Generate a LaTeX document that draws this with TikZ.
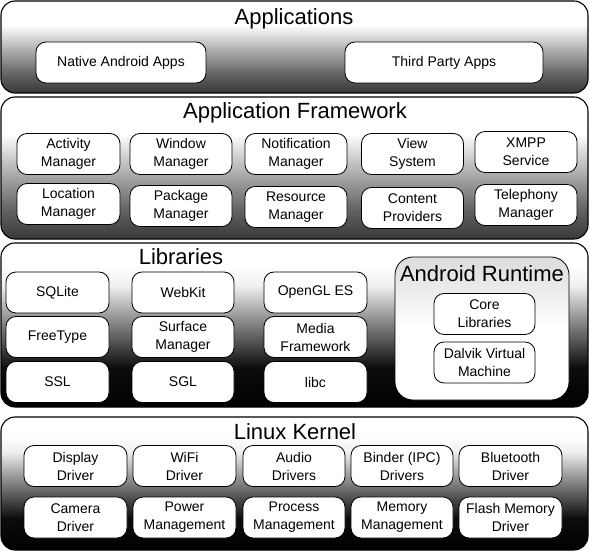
\documentclass[tikz,border=0pt]{standalone}
\usepackage{fontspec}
\setmainfont{Liberation Sans}
\usepackage{tikz}

% Shadings for the layers (bottom to top)
\pgfdeclareverticalshading{layershade}{100bp}{color(0bp)=(black!78); color(25bp)=(black!78); color(35bp)=(black!62); color(50bp)=(black!28); color(62bp)=(white); color(100bp)=(white)}
\pgfdeclareverticalshading{darkshade}{100bp}{color(0bp)=(black); color(25bp)=(black); color(37bp)=(black!95); color(50bp)=(black!50); color(62bp)=(black!6); color(68bp)=(white); color(100bp)=(white)}

\begin{document}
\begin{tikzpicture}[x=1pt,y=-1pt,
    layer/.style={draw=black, line width=1.1pt, rounded corners=14pt, shading=layershade},
    darklayer/.style={layer, shading=darkshade},
    title/.style={anchor=base, font=\fontsize{22}{26}\selectfont},
    comp/.style={draw=black, line width=0.8pt, fill=white, rounded corners=10pt, align=center,
        inner sep=0pt, minimum width=102pt, minimum height=41pt,
        font=\fontsize{14}{18}\selectfont}]
    \useasboundingbox (0,0) rectangle (590,551);

    % Draw the four layers
    \draw[layer] (1,1) rectangle (588,93);
    \draw[layer] (1,97) rectangle (588,239);
    \draw[darklayer] (1,243) rectangle (588,407);
    \draw[darklayer] (1,417) rectangle (588,550);

    % Applications
    \node[title] (apptitle) at (294,25) {Applications};
    \node[comp, minimum width=170pt] (nativeapps) at (121,62.5) {Native Android Apps};
    \node[comp, minimum width=198pt] (thirdapps) at (444,62.5) {Third Party Apps};

    % Application Framework
    \node[title] (fwtitle) at (295,119) {Application Framework};
    \node[comp, minimum width=103pt] (activitymgr) at (68.5,154) {Activity\\Manager};
    \node[comp] (windowmgr) at (181,154) {Window\\Manager};
    \node[comp] (notifmgr) at (296,154) {Notification\\Manager};
    \node[comp] (viewsys) at (412.5,154) {View\\System};
    \node[comp] (xmpp) at (526,152) {XMPP\\Service};
    \node[comp, minimum width=103pt] (locationmgr) at (68.5,204) {Location\\Manager};
    \node[comp] (packagemgr) at (181,206) {Package\\Manager};
    \node[comp] (resourcemgr) at (296,207) {Resource\\Manager};
    \node[comp] (content) at (412.5,208) {Content\\Providers};
    \node[comp] (telephony) at (526,205) {Telephony\\Manager};

    % Libraries
    \node[title] (libtitle) at (181,264) {Libraries};
    \node[comp, minimum width=103pt] (sqlite) at (57.5,292.5) {SQLite};
    \node[comp] (webkit) at (183,292.5) {WebKit};
    \node[comp, minimum width=103pt] (opengl) at (315.5,292.5) {OpenGL ES};
    \node[comp, minimum width=103pt] (freetype) at (57.5,337) {FreeType};
    \node[comp] (surfacemgr) at (183,337) {Surface\\Manager};
    \node[comp, minimum width=103pt] (mediafw) at (315.5,337) {Media\\Framework};
    \node[comp, minimum width=103pt] (ssl) at (57.5,382) {SSL};
    \node[comp] (sgl) at (183,382) {SGL};
    \node[comp, minimum width=103pt] (libc) at (315.5,382) {libc};

    % Android Runtime
    \draw[line width=0.8pt, rounded corners=18pt, top color=black!14, bottom color=white, middle color=white]
        (395,257) rectangle (569,400);
    \node[title] (rttitle) at (482,281) {Android Runtime};
    \node[comp, minimum width=101pt] (corelibs) at (484.5,314) {Core\\Libraries};
    \node[comp, minimum width=101pt] (dalvik) at (484.5,362.5) {Dalvik Virtual\\Machine};

    % Linux Kernel
    \node[title] (kerneltitle) at (295,439) {Linux Kernel};
    \node[comp, minimum width=103pt] (display) at (75.5,466) {Display\\Driver};
    \node[comp, minimum width=103pt] (wifi) at (184.5,466) {WiFi\\Driver};
    \node[comp] (audio) at (294,466) {Audio\\Drivers};
    \node[comp] (binder) at (402,466) {Binder (IPC)\\Drivers};
    \node[comp, minimum width=103pt] (bluetooth) at (510.5,466) {Bluetooth\\Driver};
    \node[comp, minimum width=103pt] (camera) at (75.5,517.5) {Camera\\Driver};
    \node[comp, minimum width=103pt] (power) at (184.5,517.5) {Power\\Management};
    \node[comp] (process) at (294,517.5) {Process\\Management};
    \node[comp] (memory) at (402,517.5) {Memory\\Management};
    \node[comp, minimum width=103pt] (flash) at (510.5,517.5) {Flash Memory\\Driver};
\end{tikzpicture}
\end{document}
